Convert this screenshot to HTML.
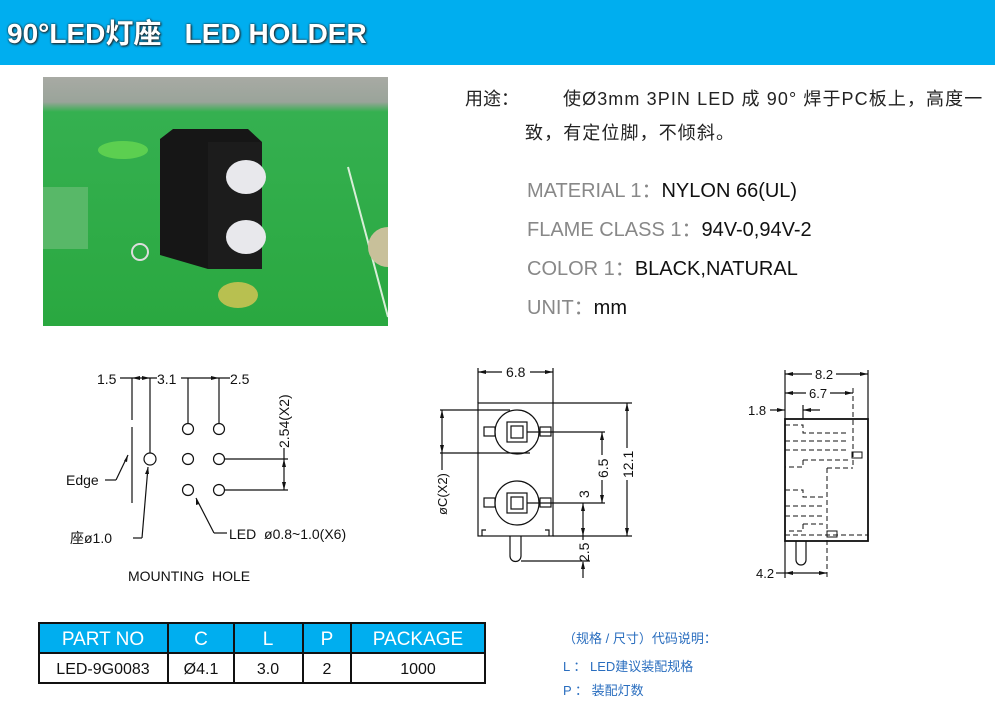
<!DOCTYPE html>
<html><head><meta charset="utf-8"><style>
body{margin:0;width:995px;height:704px;background:#fff;position:relative;overflow:hidden;font-family:"Liberation Sans","Noto Sans CJK SC",sans-serif}
.hdr{position:absolute;left:0;top:0;width:995px;height:65px;background:#00aeef}
.hdr span{position:absolute;left:7px;top:12px;font-size:28px;font-weight:bold;color:#fff;text-shadow:0 0 2px #222,1px 1px 2px #222}
.t{position:absolute;white-space:nowrap}
</style></head><body>
<div class="hdr"><span>90°LED灯座&nbsp;&nbsp;&nbsp;LED HOLDER</span></div>
<svg style="position:absolute;left:43px;top:77px" width="345" height="249">
<defs><linearGradient id="g" x1="0" y1="0" x2="0" y2="1"><stop offset="0" stop-color="#a8aaa4"/><stop offset="0.1" stop-color="#9aa49a"/><stop offset="0.14" stop-color="#35b050"/><stop offset="1" stop-color="#2aa840"/></linearGradient></defs>
<rect width="345" height="249" fill="url(#g)"/>
<ellipse cx="80" cy="73" rx="25" ry="9" fill="#5ccf50"/>
<rect x="0" y="110" width="45" height="62" fill="#58b868"/>
<line x1="305" y1="90" x2="345" y2="240" stroke="#d8eed8" stroke-width="2"/>
<circle cx="345" cy="170" r="20" fill="#c8c09a"/>
<circle cx="97" cy="175" r="8" fill="none" stroke="#ddd" stroke-width="2"/>
<polygon points="117,62 130,52 205,52 219,65 219,180 165,192 117,178" fill="#161616"/>
<rect x="165" y="65" width="54" height="127" fill="#1c1c1c"/>
<ellipse cx="203" cy="100" rx="20" ry="17" fill="#e8e8ec"/>
<ellipse cx="203" cy="160" rx="20" ry="17" fill="#e8e8ec"/>
<ellipse cx="195" cy="218" rx="20" ry="13" fill="#b8c050"/>
</svg>
<div class="t" style="left:465px;top:85px;font-size:18px;color:#222">用途：</div>
<div class="t" style="left:563px;top:85px;font-size:18px;letter-spacing:1.1px;color:#222">使Ø3mm 3PIN LED 成 90° 焊于PC板上，高度一</div>
<div class="t" style="left:525px;top:119px;font-size:18px;letter-spacing:1.1px;color:#222">致，有定位脚，不倾斜。</div>
<div class="t" style="left:527px;top:174px;font-size:20px;color:#888">MATERIAL 1：<span style="color:#111">NYLON 66(UL)</span></div>
<div class="t" style="left:527px;top:213px;font-size:20px;color:#888">FLAME CLASS 1：<span style="color:#111">94V-0,94V-2</span></div>
<div class="t" style="left:527px;top:252px;font-size:20px;color:#888">COLOR 1：<span style="color:#111">BLACK,NATURAL</span></div>
<div class="t" style="left:527px;top:291px;font-size:20px;color:#888">UNIT：<span style="color:#111">mm</span></div>

<svg style="position:absolute;left:0;top:0" width="995" height="704" font-family="Liberation Sans,sans-serif" fill="none" stroke="#111" stroke-width="1.2">
<line x1="120" y1="378" x2="157" y2="378"/><line x1="181" y1="378" x2="230" y2="378"/>
<line x1="132" y1="378" x2="132" y2="420"/><line x1="132" y1="427" x2="132" y2="503"/>
<line x1="150" y1="378" x2="150" y2="453"/>
<line x1="188" y1="378" x2="188" y2="423"/><line x1="219" y1="378" x2="219" y2="423"/>
<circle cx="150" cy="459" r="6"/>
<circle cx="188" cy="429" r="5.5"/><circle cx="219" cy="429" r="5.5"/>
<circle cx="188" cy="459" r="5.5"/><circle cx="219" cy="459" r="5.5"/>
<circle cx="188" cy="490" r="5.5"/><circle cx="219" cy="490" r="5.5"/>
<line x1="225" y1="459" x2="288" y2="459"/><line x1="225" y1="490" x2="288" y2="490"/>
<line x1="284" y1="448" x2="284" y2="490"/>
<line x1="105" y1="480" x2="116" y2="480"/><line x1="116" y1="480" x2="128" y2="455"/>
<line x1="133" y1="538" x2="142" y2="538"/><line x1="142" y1="538" x2="148" y2="467"/>
<line x1="196" y1="498" x2="214" y2="533"/><line x1="214" y1="533" x2="227" y2="533"/>
<g fill="#111" stroke="none">
<polygon points="132,378 140,376 140,380"/><polygon points="150,378 142,376 142,380"/>
<polygon points="219,378 211,376 211,380"/>
<polygon points="284,459 282,467 286,467"/><polygon points="284,490 282,482 286,482"/>
<polygon points="128,455 124,461 127,462"/><polygon points="148,467 145,474 149,474"/>
<polygon points="196,498 196,505 199,504"/>
</g>
<g fill="#111" stroke="none" font-size="14">
<text x="97" y="384">1.5</text><text x="157" y="384">3.1</text><text x="230" y="384">2.5</text>
<text x="66" y="485">Edge</text><text x="70" y="543" font-family="Liberation Sans,Noto Sans CJK SC,sans-serif">座ø1.0</text>
<text x="229" y="539">LED&#160;&#160;ø0.8~1.0(X6)</text>
<text x="128" y="581">MOUNTING&#160;&#160;HOLE</text>
<text transform="translate(289,448) rotate(-90)">2.54(X2)</text>
</g>
<rect x="478" y="403" width="75" height="133"/>
<line x1="478" y1="368" x2="478" y2="403"/><line x1="553" y1="368" x2="553" y2="403"/>
<line x1="478" y1="372" x2="502" y2="372"/><line x1="530" y1="372" x2="553" y2="372"/>
<circle cx="517" cy="432" r="22"/><circle cx="517" cy="503" r="22"/>
<rect x="507" y="422" width="20" height="20"/><rect x="511" y="426" width="12" height="12"/>
<rect x="507" y="493" width="20" height="20"/><rect x="511" y="497" width="12" height="12"/>
<rect x="484" y="427" width="11" height="9"/><rect x="540" y="427" width="11" height="9"/>
<rect x="484" y="498" width="11" height="9"/><rect x="540" y="498" width="11" height="9"/>
<path d="M510 536 V556 A5.5 5.5 0 0 0 521 556 V536"/>
<path d="M482 536 V530 H486 M549 536 V530 H545"/>
<line x1="527" y1="432" x2="605" y2="432"/><line x1="527" y1="503" x2="605" y2="503"/>
<line x1="602" y1="432" x2="602" y2="455"/><line x1="602" y1="480" x2="602" y2="503"/>
<line x1="553" y1="403" x2="632" y2="403"/><line x1="553" y1="536" x2="632" y2="536"/>
<line x1="627" y1="403" x2="627" y2="448"/><line x1="627" y1="480" x2="627" y2="536"/>
<line x1="583" y1="503" x2="583" y2="536"/><line x1="583" y1="536" x2="583" y2="540"/><line x1="583" y1="562" x2="583" y2="578"/>
<line x1="521" y1="561" x2="590" y2="561"/>
<line x1="440" y1="410" x2="510" y2="410"/><line x1="440" y1="453" x2="530" y2="453"/>
<line x1="442" y1="410" x2="442" y2="470"/>
<g fill="#111" stroke="none">
<polygon points="478,372 486,370 486,374"/><polygon points="553,372 545,370 545,374"/>
<polygon points="627,403 625,411 629,411"/><polygon points="627,536 625,528 629,528"/>
<polygon points="602,432 600,440 604,440"/><polygon points="602,503 600,495 604,495"/>
<polygon points="583,503 581,511 585,511"/><polygon points="583,536 581,528 585,528"/>
<polygon points="583,561 581,569 585,569"/>
<polygon points="442,410 440,418 444,418"/><polygon points="442,453 440,445 444,445"/>
</g>
<g fill="#111" stroke="none" font-size="14">
<text x="506" y="377">6.8</text>
<text transform="translate(608,478) rotate(-90)">6.5</text>
<text transform="translate(633,478) rotate(-90)">12.1</text>
<text transform="translate(589,498) rotate(-90)">3</text>
<text transform="translate(589,562) rotate(-90)">2.5</text>
<text transform="translate(447,515) rotate(-90)" font-size="13">øC(X2)</text>
</g>
<rect x="785" y="419" width="83" height="122" stroke-width="1.8"/>
<line x1="785" y1="370" x2="785" y2="419"/><line x1="868" y1="370" x2="868" y2="419"/>
<line x1="785" y1="374" x2="812" y2="374"/><line x1="836" y1="374" x2="868" y2="374"/>
<line x1="785" y1="393" x2="806" y2="393"/><line x1="830" y1="393" x2="853" y2="393"/>
<line x1="770" y1="410" x2="785" y2="410"/><line x1="803" y1="405" x2="803" y2="419"/><line x1="803" y1="410" x2="820" y2="410"/>
<path d="M796 541 V560 A5 5 0 0 0 806 560 V541"/>
<line x1="785" y1="541" x2="785" y2="578"/>
<line x1="776" y1="573" x2="785" y2="573"/><line x1="785" y1="573" x2="827" y2="573"/>
<g stroke-dasharray="5,3" stroke-width="1">
<line x1="853" y1="388" x2="853" y2="468"/><line x1="827" y1="468" x2="853" y2="468"/><line x1="827" y1="468" x2="827" y2="578"/>
<path d="M785 425 H803 V433 H848 M785 441 H848 M785 450 H848 M803 460 H848 M803 460 V467 H785"/>
<path d="M785 490 H803 V497 H823 M785 506 H823 M785 516 H823 M803 524 H823 M803 524 V531 H785"/>
<line x1="785" y1="535" x2="868" y2="535"/>
</g>
<rect x="852" y="452" width="10" height="6" stroke-width="1"/><rect x="827" y="531" width="10" height="6" stroke-width="1"/>
<g fill="#111" stroke="none">
<polygon points="785,374 793,372 793,376"/><polygon points="868,374 860,372 860,376"/>
<polygon points="785,393 793,391 793,395"/><polygon points="853,393 845,391 845,395"/>
<polygon points="785,410 777,408 777,412"/><polygon points="803,410 811,408 811,412"/>
<polygon points="785,573 793,571 793,575"/><polygon points="827,573 819,571 819,575"/>
</g>
<g fill="#111" stroke="none" font-size="13">
<text x="815" y="379">8.2</text><text x="809" y="398">6.7</text><text x="748" y="415">1.8</text><text x="756" y="578">4.2</text>
</g>
</svg>

<div style="position:absolute;left:38px;top:622px;width:448px;height:61px">
<svg width="450" height="63" style="position:absolute;left:0;top:0">
<rect x="1" y="1" width="446" height="30" fill="#00aeef"/>
<g stroke="#111" stroke-width="2" fill="none">
<rect x="1" y="1" width="446" height="60"/>
<line x1="1" y1="31" x2="447" y2="31"/>
<line x1="130" y1="1" x2="130" y2="61"/><line x1="196" y1="1" x2="196" y2="61"/>
<line x1="265" y1="1" x2="265" y2="61"/><line x1="313" y1="1" x2="313" y2="61"/>
</g>
<g font-family="Liberation Sans,sans-serif" text-anchor="middle">
<g fill="#fff" font-size="19"><text x="65" y="23">PART NO</text><text x="163" y="23">C</text><text x="230" y="23">L</text><text x="289" y="23">P</text><text x="380" y="23">PACKAGE</text></g>
<g fill="#111" font-size="16"><text x="65" y="52">LED-9G0083</text><text x="163" y="52">Ø4.1</text><text x="230" y="52">3.0</text><text x="289" y="52">2</text><text x="380" y="52">1000</text></g>
</g></svg></div>
<div class="t" style="left:563px;top:628px;font-size:13px;color:#2a6ebf">（规格 / 尺寸）代码说明：</div>
<div class="t" style="left:563px;top:656px;font-size:13px;color:#2a6ebf">L ： LED建议装配规格</div>
<div class="t" style="left:563px;top:680px;font-size:13px;color:#2a6ebf">P ： 装配灯数</div>
</body></html>
